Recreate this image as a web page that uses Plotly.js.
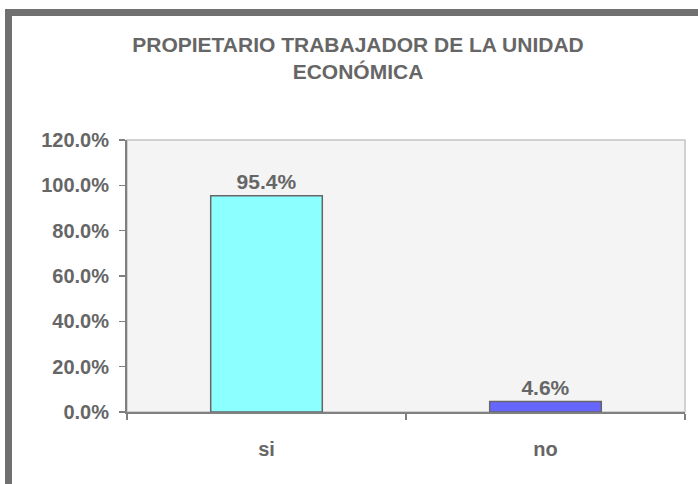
<!DOCTYPE html>
<html>
<head>
<meta charset="utf-8">
<script src="https://cdn.plot.ly/plotly-3.0.1.min.js"></script>
<style>html,body{margin:0;padding:0;background:#fff;}#chart{width:698px;height:484px;}</style>
</head>
<body>
<div id="chart"></div>
<script>
const categories = ['si', 'no'];
const values = [0.954, 0.046];
const barColors = ['#8CFFFF', '#6666FF'];
const yTickVals = [0, 0.2, 0.4, 0.6, 0.8, 1.0, 1.2];
const chartTitle = 'PROPIETARIO TRABAJADOR DE LA UNIDAD<br>ECONÓMICA';

const W = 698, H = 484;
const M = {l: 127, r: 13, t: 140, b: 72};
const pw = W - M.l - M.r, ph = H - M.t - M.b;
const px = x => (x - M.l) / pw;
const py = y => (H - M.b - y) / ph;

const textGray = '#666666';
const fontFam = '"Liberation Sans", Arial, sans-serif';

const trace = {
  type: 'bar',
  x: categories,
  y: values,
  marker: {color: barColors, line: {color: '#666666', width: 1.5}},
  texttemplate: '%{y:.1%}',
  textposition: 'outside',
  cliponaxis: false,
  textfont: {family: fontFam, size: 21, color: textGray, weight: 'bold'},
  hoverinfo: 'none'
};

const layout = {
  width: W, height: H,
  margin: M,
  paper_bgcolor: '#ffffff',
  plot_bgcolor: '#f4f4f4',
  bargap: 0.6,
  showlegend: false,
  font: {family: fontFam, color: textGray},
  title: {
    text: chartTitle,
    font: {family: fontFam, size: 21, color: textGray, weight: 'bold'},
    xref: 'container', x: 358 / W, xanchor: 'center',
    yref: 'container', y: 1 - 52 / H, yanchor: 'top'
  },
  xaxis: {
    type: 'category',
    showgrid: false,
    zeroline: false,
    showline: true, linecolor: '#808080', linewidth: 2,
    ticks: 'outside', tickson: 'boundaries', ticklen: 6, tickcolor: '#808080', tickwidth: 1.5,
    tickfont: {family: fontFam, size: 20, color: textGray, weight: 'bold'},
    ticklabelstandoff: 18,
    fixedrange: true
  },
  yaxis: {
    range: [0, 1.2],
    tickvals: yTickVals,
    tickformat: '.1%',
    showgrid: false,
    zeroline: false,
    showline: true, linecolor: '#808080', linewidth: 2,
    ticks: 'outside', ticklen: 6, tickcolor: '#808080', tickwidth: 1.5,
    tickfont: {family: fontFam, size: 20, color: textGray, weight: 'bold'},
    ticklabelstandoff: 6,
    fixedrange: true
  },
  shapes: [
    {type: 'rect', xref: 'paper', yref: 'paper', x0: 0, x1: 1, y0: 0, y1: 1,
     line: {color: '#c4c4c4', width: 1.5}, layer: 'below'},
    {type: 'line', xref: 'paper', yref: 'paper',
     x0: px(8.5), x1: px(8.5), y0: py(9), y1: py(490),
     line: {color: '#707070', width: 7}, layer: 'above'},
    {type: 'line', xref: 'paper', yref: 'paper',
     x0: px(5), x1: px(705), y0: py(12.5), y1: py(12.5),
     line: {color: '#707070', width: 7}, layer: 'above'}
  ]
};

Plotly.newPlot('chart', [trace], layout, {displayModeBar: false, staticPlot: true});
</script>
</body>
</html>
